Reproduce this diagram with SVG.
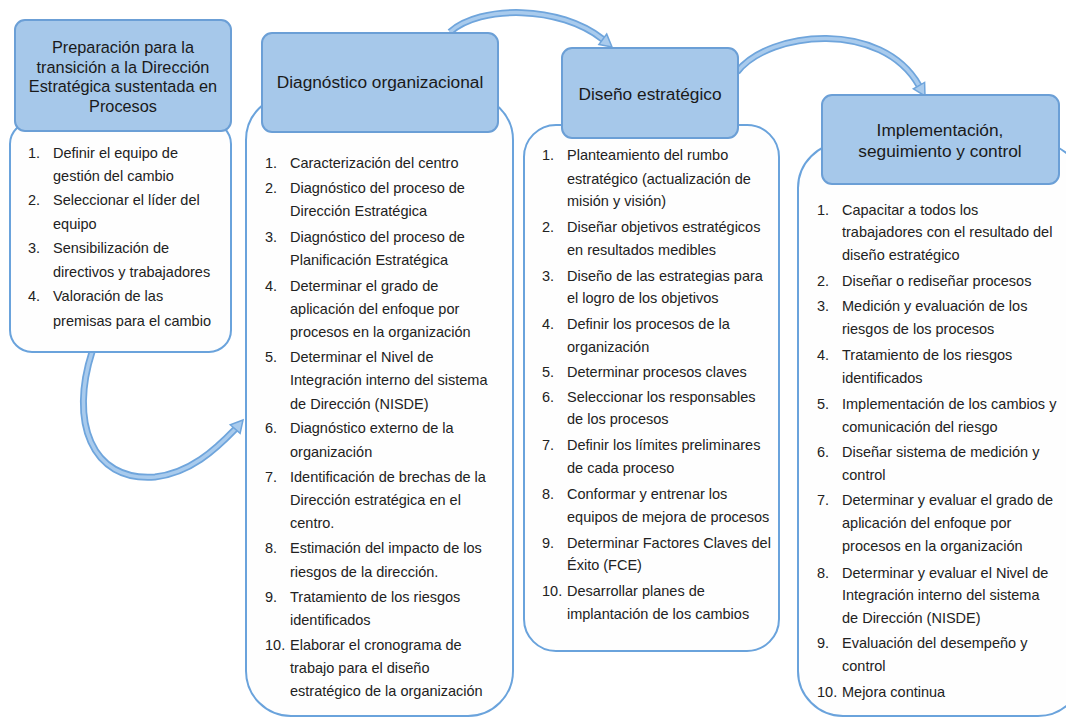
<svg xmlns="http://www.w3.org/2000/svg" width="1066" height="717" viewBox="0 0 1066 717">
<style>
.list{fill:#fefefe;stroke:#6aa3dc;stroke-width:2}
.head{fill:#a6c8ea;stroke:#6b9fd6;stroke-width:2}
.ht{font-family:"Liberation Sans",Arial,sans-serif;font-size:17.3px;fill:#1a1a1a;text-anchor:middle}
.h1t{font-size:16.3px}
.lt{font-family:"Liberation Sans",Arial,sans-serif;font-size:14.5px;fill:#222}
.arO{fill:none;stroke:#6fa5dc;stroke-width:7;stroke-linecap:butt}
.arI{fill:none;stroke:#a9cbed;stroke-width:3.5;stroke-linecap:butt}
.head-ar{fill:#a9cbed;stroke:#6fa5dc;stroke-width:1.5;stroke-linejoin:miter}
</style>
<rect width="1066" height="717" fill="#ffffff"/>

<g id="connectors">
  <path class="arO" d="M92 352 C70 420 90 482 155 477 C190 473 215 450 235.2 429.1"/>
  <path class="arI" d="M92 352 C70 420 90 482 155 477 C190 473 215 450 235.2 429.1"/>
  <polygon class="head-ar" points="243,420 240.1,433.4 230.3,424.8"/>

  <path class="arO" d="M450 32 C480 5 560 5 602.8 39.3"/>
  <path class="arI" d="M450 32 C480 5 560 5 602.8 39.3"/>
  <polygon class="head-ar" points="612,47 598.9,44.5 606.7,34.1"/>

  <path class="arO" d="M737 72 C770 30 882 20 919 85.6"/>
  <path class="arI" d="M737 72 C770 30 882 20 919 85.6"/>
  <polygon class="head-ar" points="925,96 913.4,88.8 924.6,82.4"/>
</g>

<g id="node1">
  <rect class="list" x="10" y="122" width="221" height="230" rx="22"/>
  <rect class="head" x="15" y="20" width="216" height="111" rx="10"/>
  <text class="ht h1t"><tspan x="123" y="53">Preparación para la</tspan><tspan x="123" y="73">transición a la Dirección</tspan><tspan x="123" y="92">Estratégica sustentada en</tspan><tspan x="123" y="112">Procesos</tspan></text>
  <text class="lt">
    <tspan x="28" y="158">1.</tspan><tspan x="53" y="158">Definir el equipo de</tspan>
    <tspan x="53" y="181">gestión del cambio</tspan>
    <tspan x="28" y="205">2.</tspan><tspan x="53" y="205">Seleccionar el líder del</tspan>
    <tspan x="53" y="229">equipo</tspan>
    <tspan x="28" y="253">3.</tspan><tspan x="53" y="253">Sensibilización de</tspan>
    <tspan x="53" y="277">directivos y trabajadores</tspan>
    <tspan x="28" y="301">4.</tspan><tspan x="53" y="301">Valoración de las</tspan>
    <tspan x="53" y="326">premisas para el cambio</tspan>
  </text>
</g>

<g id="node2">
  <rect class="list" x="246" y="95" width="267" height="621" rx="45"/>
  <rect class="head" x="262" y="33" width="236" height="99" rx="10"/>
  <text class="ht" x="380" y="88">Diagnóstico organizacional</text>
  <text class="lt">
    <tspan x="265" y="168">1.</tspan><tspan x="290" y="168">Caracterización del centro</tspan>
    <tspan x="265" y="193">2.</tspan><tspan x="290" y="193">Diagnóstico del proceso de</tspan>
    <tspan x="290" y="216">Dirección Estratégica</tspan>
    <tspan x="265" y="242">3.</tspan><tspan x="290" y="242">Diagnóstico del proceso de</tspan>
    <tspan x="290" y="265">Planificación Estratégica</tspan>
    <tspan x="265" y="291">4.</tspan><tspan x="290" y="291">Determinar el grado de</tspan>
    <tspan x="290" y="314">aplicación del enfoque por</tspan>
    <tspan x="290" y="337">procesos en la organización</tspan>
    <tspan x="265" y="362">5.</tspan><tspan x="290" y="362">Determinar el Nivel de</tspan>
    <tspan x="290" y="385">Integración interno del sistema</tspan>
    <tspan x="290" y="409">de Dirección (NISDE)</tspan>
    <tspan x="265" y="433">6.</tspan><tspan x="290" y="433">Diagnóstico externo de la</tspan>
    <tspan x="290" y="457">organización</tspan>
    <tspan x="265" y="482">7.</tspan><tspan x="290" y="482">Identificación de brechas de la</tspan>
    <tspan x="290" y="505">Dirección estratégica en el</tspan>
    <tspan x="290" y="528">centro.</tspan>
    <tspan x="265" y="553">8.</tspan><tspan x="290" y="553">Estimación del impacto de los</tspan>
    <tspan x="290" y="577">riesgos de la dirección.</tspan>
    <tspan x="265" y="602">9.</tspan><tspan x="290" y="602">Tratamiento de los riesgos</tspan>
    <tspan x="290" y="625">identificados</tspan>
    <tspan x="265" y="650">10.</tspan><tspan x="290" y="650">Elaborar el cronograma de</tspan>
    <tspan x="290" y="673">trabajo para el diseño</tspan>
    <tspan x="290" y="696">estratégico de la organización</tspan>
  </text>
</g>

<g id="node3">
  <rect class="list" x="524" y="125" width="255" height="526" rx="32"/>
  <rect class="head" x="562" y="48" width="176" height="90" rx="10"/>
  <text class="ht" x="650" y="100">Diseño estratégico</text>
  <text class="lt">
    <tspan x="542" y="160">1.</tspan><tspan x="567" y="160">Planteamiento del rumbo</tspan>
    <tspan x="567" y="184">estratégico (actualización de</tspan>
    <tspan x="567" y="206">misión y visión)</tspan>
    <tspan x="542" y="232">2.</tspan><tspan x="567" y="232">Diseñar objetivos estratégicos</tspan>
    <tspan x="567" y="255">en resultados medibles</tspan>
    <tspan x="542" y="281">3.</tspan><tspan x="567" y="281">Diseño de las estrategias para</tspan>
    <tspan x="567" y="303">el logro de los objetivos</tspan>
    <tspan x="542" y="329">4.</tspan><tspan x="567" y="329">Definir los procesos de la</tspan>
    <tspan x="567" y="352">organización</tspan>
    <tspan x="542" y="377">5.</tspan><tspan x="567" y="377">Determinar procesos claves</tspan>
    <tspan x="542" y="402">6.</tspan><tspan x="567" y="402">Seleccionar los responsables</tspan>
    <tspan x="567" y="424">de los procesos</tspan>
    <tspan x="542" y="450">7.</tspan><tspan x="567" y="450">Definir los límites preliminares</tspan>
    <tspan x="567" y="473">de cada proceso</tspan>
    <tspan x="542" y="499">8.</tspan><tspan x="567" y="499">Conformar y entrenar los</tspan>
    <tspan x="567" y="522">equipos de mejora de procesos</tspan>
    <tspan x="542" y="548">9.</tspan><tspan x="567" y="548">Determinar Factores Claves del</tspan>
    <tspan x="567" y="570">Éxito (FCE)</tspan>
    <tspan x="542" y="596">10.</tspan><tspan x="567" y="596">Desarrollar planes de</tspan>
    <tspan x="567" y="619">implantación de los cambios</tspan>
  </text>
</g>

<g id="node4">
  <rect class="list" x="798" y="143" width="285" height="573" rx="45"/>
  <rect class="head" x="822" y="95" width="237" height="89" rx="10"/>
  <text class="ht"><tspan x="940" y="136">Implementación,</tspan><tspan x="940" y="157">seguimiento y control</tspan></text>
  <text class="lt">
    <tspan x="817" y="215">1.</tspan><tspan x="842" y="215">Capacitar a todos los</tspan>
    <tspan x="842" y="237">trabajadores con el resultado del</tspan>
    <tspan x="842" y="260">diseño estratégico</tspan>
    <tspan x="817" y="286">2.</tspan><tspan x="842" y="286">Diseñar o rediseñar procesos</tspan>
    <tspan x="817" y="311">3.</tspan><tspan x="842" y="311">Medición y evaluación de los</tspan>
    <tspan x="842" y="334">riesgos de los procesos</tspan>
    <tspan x="817" y="360">4.</tspan><tspan x="842" y="360">Tratamiento de los riesgos</tspan>
    <tspan x="842" y="383">identificados</tspan>
    <tspan x="817" y="409">5.</tspan><tspan x="842" y="409">Implementación de los cambios y</tspan>
    <tspan x="842" y="432">comunicación del riesgo</tspan>
    <tspan x="817" y="457">6.</tspan><tspan x="842" y="457">Diseñar sistema de medición y</tspan>
    <tspan x="842" y="480">control</tspan>
    <tspan x="817" y="505">7.</tspan><tspan x="842" y="505">Determinar y evaluar el grado de</tspan>
    <tspan x="842" y="528">aplicación del enfoque por</tspan>
    <tspan x="842" y="551">procesos en la organización</tspan>
    <tspan x="817" y="578">8.</tspan><tspan x="842" y="578">Determinar y evaluar el Nivel de</tspan>
    <tspan x="842" y="600">Integración interno del sistema</tspan>
    <tspan x="842" y="623">de Dirección (NISDE)</tspan>
    <tspan x="817" y="648">9.</tspan><tspan x="842" y="648">Evaluación del desempeño y</tspan>
    <tspan x="842" y="671">control</tspan>
    <tspan x="817" y="697">10.</tspan><tspan x="842" y="697">Mejora continua</tspan>
  </text>
</g>
</svg>
